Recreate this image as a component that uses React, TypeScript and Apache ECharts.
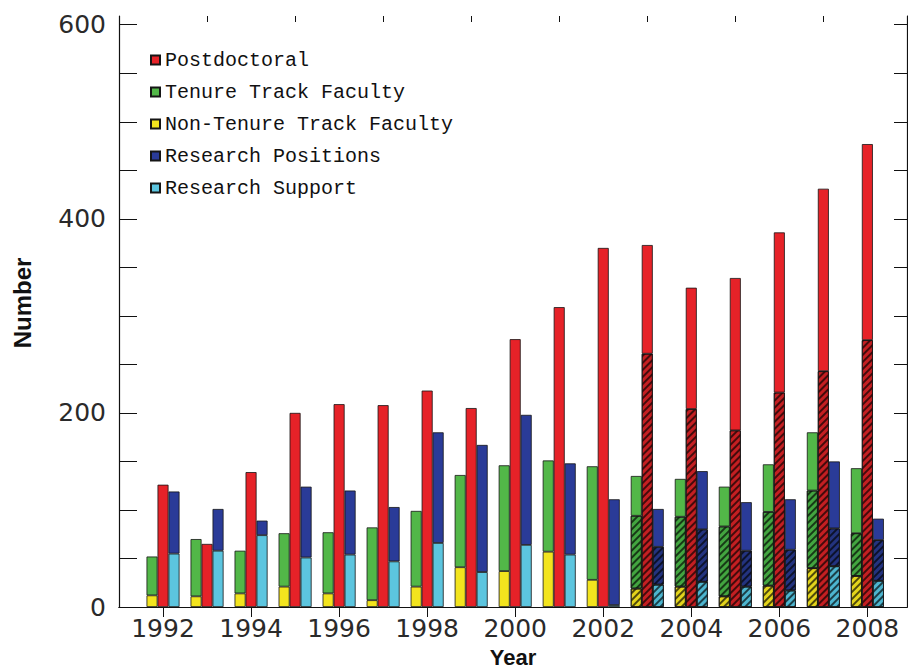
import React, { useEffect, useRef } from "react";
import * as echarts from "echarts";

const years = [1992, 1993, 1994, 1995, 1996, 1997, 1998, 1999, 2000, 2001, 2002, 2003, 2004, 2005, 2006, 2007, 2008];

// plain (unhatched) segments
const postdoc = [126, 65, 139, 200, 209, 208, 223, 205, 276, 309, 370, 112, 125, 157, 165, 188, 202];
const tenure = [40, 59, 44, 55, 63, 75, 78, 95, 109, 94, 117, 41, 39, 41, 49, 60, 67];
const nonTenure = [12, 11, 14, 21, 14, 7, 21, 41, 37, 57, 28, null, null, null, null, null, null];
const resPositions = [64, 43, 15, 73, 66, 56, 114, 131, 134, 94, 109, 39, 60, 50, 52, 69, 22];
const resSupport = [55, 58, 74, 51, 54, 47, 66, 36, 64, 54, 2, null, null, null, null, null, null];

// hatched segments (2003-2008)
const N = null;
const postdocHatched = [N, N, N, N, N, N, N, N, N, N, N, 261, 204, 182, 221, 243, 275];
const tenureHatched = [N, N, N, N, N, N, N, N, N, N, N, 75, 72, 72, 76, 80, 44];
const nonTenureHatched = [N, N, N, N, N, N, N, N, N, N, N, 19, 21, 11, 22, 40, 32];
const resPositionsHatched = [N, N, N, N, N, N, N, N, N, N, N, 39, 54, 37, 42, 39, 42];
const resSupportHatched = [N, N, N, N, N, N, N, N, N, N, N, 23, 26, 21, 17, 42, 27];

const yLabelValues = [0, 200, 400, 600];
const yTickValues = [0, 50, 100, 150, 200, 250, 300, 350, 400, 450, 500, 550, 600];
const xLabelValues = [1992, 1994, 1996, 1998, 2000, 2002, 2004, 2006, 2008];
const xOddTicks = [1991, 1993, 1995, 1997, 1999, 2001, 2003, 2005, 2007];

const legendNames = ["Postdoctoral", "Tenure Track Faculty", "Non-Tenure Track Faculty", "Research Positions", "Research Support"];

const RED = "#e62228";
const GREEN = "#52b748";
const YELLOW = "#f3e41e";
const BLUE = "#2a3b98";
const CYAN = "#5cc5df";

const RED_H = "#c41f22";
const GREEN_H = "#43a540";
const YELLOW_H = "#e3d41c";
const BLUE_H = "#23337f";
const CYAN_H = "#4db5cf";

const hatch = {
  symbol: "rect",
  symbolSize: 1,
  color: "rgba(0,0,0,0.65)",
  dashArrayX: [1, 0],
  dashArrayY: [1.5, 2.8],
  rotation: -Math.PI / 4,
};

function bar(name: string, values: (number | null)[], stack: string, color: string, hatched: boolean) {
  const itemStyle: any = { color, borderColor: "#151515", borderWidth: 0.8 };
  if (hatched) itemStyle.decal = hatch;
  return {
    type: "bar",
    name,
    stack,
    xAxisIndex: 0,
    yAxisIndex: 0,
    barWidth: 11,
    barGap: "0%",
    // value first so that the stacked dimension is the value (y), year second
    encode: { x: 1, y: 0 },
    data: years.map((y, i) => [values[i] == null ? "-" : values[i], y]),
    itemStyle,
    emphasis: { disabled: true },
  };
}

const labelFont = { fontFamily: "'DejaVu Sans', sans-serif", fontSize: 25, color: "#2a2a2a" };

export default function App() {
  const ref = useRef<HTMLDivElement>(null);
  useEffect(() => {
    const chart = echarts.init(ref.current as HTMLDivElement, null, { renderer: "svg" });
    const xCommon = { type: "value", min: 1991, max: 2008.9, gridIndex: 0, splitLine: { show: false } };
    const option: any = {
      animation: false,
      backgroundColor: "#ffffff",
      grid: { left: 119, right: 1, top: 16, bottom: 64, containLabel: false },
      legend: {
        orient: "vertical",
        left: 150,
        top: 50,
        padding: 0,
        itemWidth: 9,
        itemHeight: 9,
        itemGap: 12,
        icon: "rect",
        selectedMode: false,
        textStyle: { fontFamily: "'Liberation Mono', monospace", fontSize: 20, lineHeight: 20, color: "#111" },
        data: legendNames,
      },
      xAxis: [
        {
          ...xCommon,
          position: "bottom",
          axisLine: { show: true, lineStyle: { color: "#111", width: 1.2 } },
          axisTick: { show: false },
          axisLabel: { ...labelFont, margin: 9, customValues: xLabelValues, formatter: (v: number) => String(v) },
        },
        {
          ...xCommon,
          position: "top",
          axisLine: { show: true, lineStyle: { color: "#111", width: 1.2 } },
          axisTick: { show: true, inside: true, length: 10, customValues: xLabelValues, lineStyle: { color: "#111" } },
          axisLabel: { show: false },
        },
        {
          ...xCommon,
          position: "top",
          axisLine: { show: false },
          axisTick: { show: true, inside: true, length: 6, customValues: xOddTicks, lineStyle: { color: "#111" } },
          axisLabel: { show: false },
        },
      ],
      yAxis: [
        {
          type: "value",
          position: "left",
          min: 0,
          max: 609,
          interval: 50,
          splitLine: { show: false },
          axisLine: { show: true, lineStyle: { color: "#111", width: 1.2 } },
          axisTick: { show: true, inside: true, length: 18, customValues: yTickValues, lineStyle: { color: "#111" } },
          axisLabel: { ...labelFont, margin: 13, customValues: yLabelValues, formatter: (v: number) => String(v) },
        },
        {
          type: "value",
          position: "right",
          min: 0,
          max: 609,
          interval: 50,
          splitLine: { show: false },
          axisLine: { show: true, lineStyle: { color: "#111", width: 1.2 } },
          axisTick: { show: true, inside: true, length: 13, customValues: yTickValues, lineStyle: { color: "#111" } },
          axisLabel: { show: false },
        },
      ],
      graphic: [
        {
          type: "text",
          x: 22,
          y: 303,
          rotation: Math.PI / 2,
          style: {
            text: "Number",
            fontFamily: "'Liberation Sans Narrow', 'Liberation Sans', sans-serif",
            fontWeight: "bold",
            fontSize: 24,
            fill: "#111",
            align: "center",
            verticalAlign: "middle",
          },
        },
        {
          type: "text",
          x: 513,
          y: 657,
          style: {
            text: "Year",
            fontFamily: "'Liberation Sans Narrow', 'Liberation Sans', sans-serif",
            fontWeight: "bold",
            fontSize: 22,
            fill: "#111",
            align: "center",
            verticalAlign: "middle",
          },
        },
      ],
      series: [
        bar("Non-Tenure Track Faculty (hatched)", nonTenureHatched, "fac", YELLOW_H, true),
        bar("Non-Tenure Track Faculty", nonTenure, "fac", YELLOW, false),
        bar("Tenure Track Faculty (hatched)", tenureHatched, "fac", GREEN_H, true),
        bar("Tenure Track Faculty", tenure, "fac", GREEN, false),
        bar("Postdoctoral (hatched)", postdocHatched, "pd", RED_H, true),
        bar("Postdoctoral", postdoc, "pd", RED, false),
        bar("Research Support (hatched)", resSupportHatched, "res", CYAN_H, true),
        bar("Research Support", resSupport, "res", CYAN, false),
        bar("Research Positions (hatched)", resPositionsHatched, "res", BLUE_H, true),
        bar("Research Positions", resPositions, "res", BLUE, false),
      ],
    };
    chart.setOption(option);
    return () => chart.dispose();
  }, []);
  return (
    <div
      ref={ref}
      style={{ position: "fixed", left: 0, top: 0, width: 908, height: 671, background: "#fff" }}
    />
  );
}
